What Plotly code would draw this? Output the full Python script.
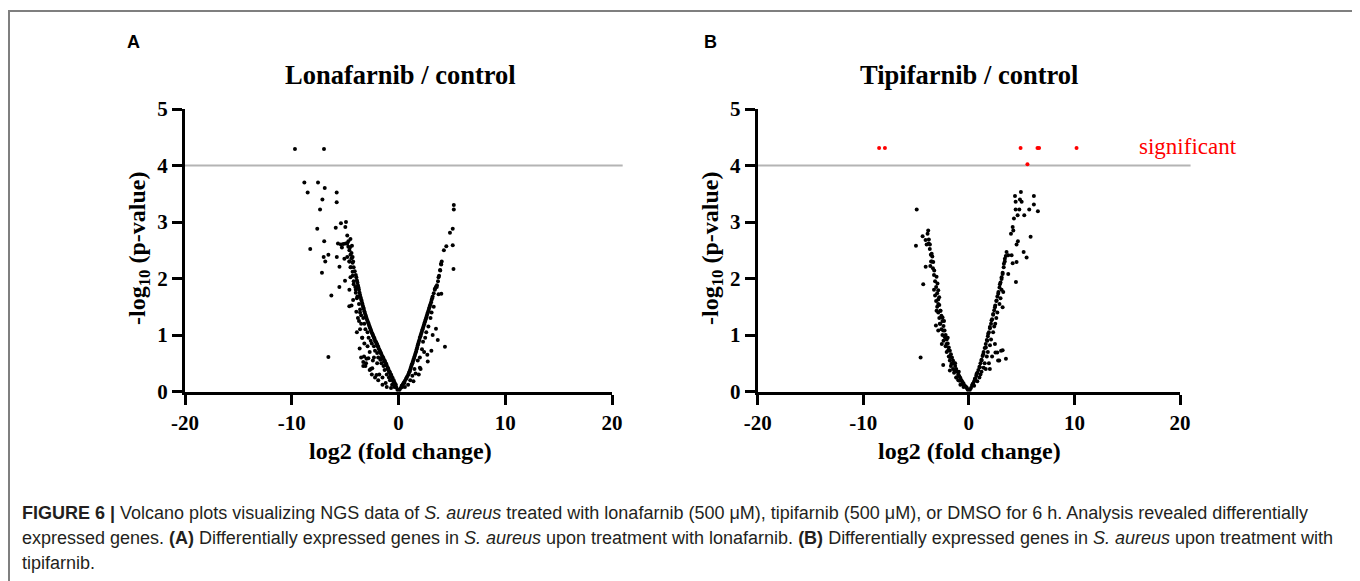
import plotly.graph_objects as go

# the page body adds an 8px offset, so the figure is laid out 8px smaller
OFF = 8
W, H = 1360 - OFF, 581 - OFF

# ---------------- data ----------------
x_ticks = [-20, -10, 0, 10, 20]
x_tick_labels = ["-20", "-10", "0", "10", "20"]
y_ticks = [0, 1, 2, 3, 4, 5]
y_tick_labels = ["0", "1", "2", "3", "4", "5"]
threshold = 4

# Panel A (Lonafarnib / control)
a_left_band = [(-0.1,0.03),(-0.2,0.07),(-0.25,0.12),(-0.3,0.1),(-0.35,0.15),(-0.4,0.16),(-0.45,0.2),(-0.5,0.18),
    (-0.55,0.24),(-0.6,0.22),(-0.65,0.27),(-0.7,0.3),(-0.75,0.28),(-0.8,0.33),(-0.85,0.36),(-0.9,0.35),(-0.95,0.4),
    (-1.0,0.42),(-1.05,0.4),(-1.1,0.46),(-1.15,0.49),(-1.2,0.47),(-1.25,0.52),(-1.3,0.55),(-1.35,0.53),(-1.4,0.58),
    (-1.45,0.6),(-1.5,0.62),(-1.55,0.6),(-1.6,0.66),(-1.65,0.68),(-1.7,0.7),(-1.75,0.72),(-1.8,0.74),(-1.85,0.76),
    (-1.9,0.79),(-1.95,0.8),(-2.0,0.83),(-2.05,0.85),(-2.1,0.87),(-2.15,0.89),(-2.2,0.9),(-2.25,0.94),(-2.3,0.95),
    (-2.35,0.98),(-2.4,1.0),(-2.45,1.02),(-2.5,1.04),(-2.55,1.07),(-2.6,1.09),(-2.65,1.12),(-2.7,1.14),(-2.75,1.17),
    (-2.8,1.2),(-2.85,1.22),(-2.9,1.25),(-2.95,1.27),(-3.0,1.3),(-3.05,1.33),(-3.1,1.36),(-3.15,1.39),(-3.2,1.42),
    (-3.25,1.46),(-3.3,1.49),(-3.35,1.52),(-3.4,1.56),(-3.45,1.6),(-3.5,1.63),(-3.55,1.67),(-3.6,1.71),(-3.65,1.75),
    (-3.7,1.8),(-3.75,1.84),(-3.8,1.88),(-3.85,1.93),(-3.9,1.97),(-3.95,2.02),(-4.0,2.06),(-4.1,2.13),(-4.2,2.2),
    (-4.3,2.28),(-4.4,2.36),(-4.5,2.42),(-4.6,2.5),(-4.7,2.56),(-4.8,2.62),
    (-0.4,0.08),(-0.6,0.12),(-0.8,0.2),(-0.9,0.25),(-1.1,0.3),(-1.3,0.38),(-1.4,0.45),(-1.6,0.5),(-1.7,0.56),
    (-1.9,0.6),(-2.0,0.68),(-2.2,0.72),(-2.3,0.8),(-2.5,0.85),(-2.6,0.9),(-2.8,0.95),(-2.9,1.05),(-3.1,1.1),
    (-3.2,1.2),(-3.3,1.3),(-3.5,1.35),(-3.6,1.45),(-3.7,1.55),(-3.9,1.65),(-4.0,1.8),(-4.2,1.9),(-4.3,2.05),
    (-4.5,2.2),(-4.6,2.3),(-2.0,0.5),(-2.3,0.6),(-2.7,0.7),(-3.0,0.58),(-3.3,0.45),(-2.6,0.4),(-1.8,0.3),
    (-1.5,0.25),(-2.9,0.8),(-3.4,0.95),(-3.6,1.1),(-2.4,0.55),(-1.2,0.15),(-0.7,0.06)]
a_left_scatter = [(-9.70,4.29),(-6.98,4.29),(-8.82,3.70),(-7.54,3.70),(-8.51,3.52),(-6.91,3.60),(-5.79,3.52),
    (-7.13,3.40),(-5.79,3.35),(-7.35,3.22),(-7.61,2.88),(-5.88,2.90),(-5.39,2.98),(-4.92,3.00),(-4.98,2.91),
    (-8.27,2.52),(-6.96,2.66),(-5.67,2.62),(-5.40,2.60),(-5.17,2.61),(-4.95,2.62),(-4.70,2.66),(-4.80,2.76),
    (-4.36,2.58),(-4.50,2.70),(-7.01,2.38),(-6.57,2.42),(-6.86,2.30),(-5.78,2.38),(-5.07,2.35),(-4.80,2.38),
    (-5.53,2.21),(-7.17,2.10),(-5.01,1.96),(-5.54,1.85),(-6.29,1.70),(-4.61,1.51),(-3.95,1.41),(-3.70,1.25),
    (-3.64,0.76),(-6.57,0.61),(-5.3,2.55),(-4.55,2.55),(-4.4,2.45),(-4.3,2.38),(-4.25,2.3),(-4.6,2.3),
    (-4.45,2.2),(-4.3,2.12),(-4.5,2.02),(-4.2,1.95),(-4.05,1.85),(-4.6,1.8),(-4.0,1.75),(-3.85,1.68),
    (-4.25,1.62),(-4.4,1.52),(-3.6,1.4),(-3.8,1.3),(-3.5,1.2),(-3.9,1.05),(-3.4,0.95),(-3.2,0.85),(-3.5,0.6),
    (-3.23,0.62),(-2.82,0.59),(-3.04,0.50),(-2.46,0.41),(-2.06,0.29),(-3.3,0.52),(-3.1,0.45),(-2.7,0.38),
    (-2.5,0.3),(-2.2,0.25),(-1.9,0.2),(-1.5,0.12),(-1.1,0.08)]
a_right_band = [(0.1,0.03),(0.2,0.06),(0.3,0.1),(0.35,0.08),(0.4,0.13),(0.5,0.16),(0.55,0.15),(0.6,0.19),(0.7,0.22),
    (0.75,0.24),(0.8,0.26),(0.9,0.29),(0.95,0.31),(1.0,0.34),(1.05,0.36),(1.1,0.39),(1.15,0.42),(1.2,0.45),
    (1.25,0.48),(1.3,0.5),(1.35,0.53),(1.4,0.56),(1.45,0.59),(1.5,0.62),(1.55,0.65),(1.6,0.68),(1.65,0.71),
    (1.7,0.75),(1.75,0.78),(1.8,0.82),(1.85,0.85),(1.9,0.88),(1.95,0.91),(2.0,0.95),(2.05,0.98),(2.1,1.01),
    (2.15,1.04),(2.2,1.07),(2.25,1.1),(2.3,1.13),(2.35,1.16),(2.4,1.19),(2.45,1.22),(2.5,1.25),(2.55,1.28),
    (2.6,1.31),(2.65,1.34),(2.7,1.37),(2.75,1.4),(2.8,1.43),(2.85,1.46),(2.9,1.49),(2.95,1.52),(3.0,1.55),
    (3.05,1.58),(3.1,1.62),(3.15,1.65),(3.2,1.68),(3.3,1.74),(3.4,1.8),(3.5,1.85),(3.6,1.88),(3.7,1.95),
    (3.8,2.05),(3.9,2.15),(4.0,2.25),(4.05,2.3),
    (0.6,0.08),(0.9,0.12),(1.1,0.2),(1.3,0.28),(1.5,0.4),(1.6,0.32),(1.8,0.55),(2.0,0.6),(2.2,0.75),(2.3,0.88),
    (2.5,0.95),(2.6,1.05),(2.8,1.15),(3.0,1.3),(3.1,1.4),(3.3,1.5),(2.0,0.42),(2.7,0.65),(1.4,0.18),(1.9,0.3),
    (2.4,0.7),(3.2,1.0)]
a_right_scatter = [(5.18,3.30),(5.18,3.22),(5.08,2.88),(4.82,2.81),(5.08,2.59),(4.48,2.57),(4.25,2.50),
    (5.15,2.17),(3.98,2.26),(3.91,2.14),(3.75,2.02),(3.58,1.85),(3.41,1.82),(4.01,1.73),(3.75,1.72),
    (3.51,1.11),(3.68,0.91),(4.35,0.79),(3.08,0.72),(2.74,0.53),(2.07,0.40)]

# Panel B (Tipifarnib / control)
b_left_band = [(-0.1,0.03),(-0.2,0.06),(-0.3,0.09),(-0.4,0.1),(-0.5,0.14),(-0.6,0.17),(-0.7,0.2),(-0.8,0.24),
    (-0.9,0.27),(-1.0,0.3),(-1.1,0.35),(-1.2,0.4),(-1.3,0.45),(-1.4,0.5),(-1.5,0.55),(-1.6,0.6),(-1.7,0.66),
    (-1.8,0.72),(-1.9,0.78),(-2.0,0.85),(-2.1,0.92),(-2.2,1.0),(-2.3,1.08),(-2.4,1.16),(-2.5,1.25),(-2.6,1.34),
    (-2.7,1.43),(-2.8,1.53),(-2.9,1.63),(-3.0,1.74),(-3.1,1.85),(-3.2,1.95),(-3.3,2.06),(-3.4,2.18),(-3.5,2.3),
    (-3.6,2.42),(-3.7,2.52),(-3.8,2.62),
    (-0.5,0.08),(-0.8,0.12),(-1.0,0.2),(-1.2,0.25),(-1.4,0.33),(-1.5,0.4),(-1.7,0.45),(-1.8,0.55),(-1.9,0.62),
    (-2.1,0.7),(-2.2,0.8),(-2.4,0.9),(-2.5,1.0),(-2.6,1.1),(-2.7,1.2),(-2.8,1.3),(-2.9,1.4),(-3.0,1.5),
    (-3.1,1.6),(-3.2,1.7),(-3.3,1.8),(-1.3,0.5),(-0.95,0.35),(-2.0,0.95),(-2.35,1.25)]
b_left_scatter = [(-4.94,3.22),(-5.01,2.58),(-4.57,0.60),(-4.32,1.90),(-3.85,2.85),(-3.91,2.79),(-4.38,2.75),
    (-4.1,2.68),(-3.79,2.69),(-4.0,2.6),(-3.69,2.6),(-3.52,2.44),(-3.46,2.39),(-3.58,2.30),(-4.09,2.21),
    (-3.65,2.22),(-3.37,2.29),(-3.28,2.14),(-3.06,2.03),(-2.97,1.91),(-2.9,1.79),(-2.81,1.67),(-2.9,1.55),
    (-2.68,1.43),(-3.06,1.43),(-2.49,1.31),(-2.75,1.20),(-3.12,1.17),(-2.9,1.08),(-2.43,1.08),(-2.27,0.96),
    (-2.12,0.84),(-2.56,0.84),(-1.96,0.73),(-2.43,0.47),(-1.8,0.61),(-1.64,0.49),(-1.8,0.37),(-1.33,0.37),
    (-1.17,0.25),(-0.86,0.19),(-0.54,0.13),(-0.22,0.07)]
b_right_band = [(0.1,0.03),(0.2,0.06),(0.3,0.1),(0.4,0.14),(0.5,0.18),(0.6,0.23),(0.7,0.28),(0.8,0.33),(0.9,0.38),
    (1.0,0.44),(1.1,0.5),(1.2,0.56),(1.3,0.63),(1.4,0.7),(1.5,0.77),(1.6,0.84),(1.7,0.91),(1.8,0.98),(1.9,1.05),
    (2.0,1.12),(2.1,1.2),(2.2,1.28),(2.3,1.36),(2.4,1.44),(2.5,1.52),(2.6,1.6),(2.7,1.68),(2.8,1.76),(2.9,1.84),
    (3.0,1.93),(3.1,2.02),(3.2,2.1),(3.3,2.2),(3.4,2.3),(3.5,2.4),
    (0.5,0.1),(0.8,0.18),(1.0,0.25),(1.2,0.35),(1.4,0.42),(1.5,0.5),(1.7,0.62),(1.8,0.7),(2.0,0.82),(2.1,0.92),
    (2.3,1.05),(2.4,1.15),(2.6,1.3),(2.7,1.4),(2.9,1.55),(3.0,1.65),(3.1,1.8),(1.6,0.4),(1.9,0.5),(2.2,0.62),
    (1.1,0.3),(2.5,1.2)]
b_right_scatter = [(4.93,3.53),(4.37,3.46),(4.84,3.40),(4.43,3.36),(5.0,3.36),(4.43,3.22),(4.78,3.22),
    (6.16,3.46),(6.16,3.31),(5.72,3.22),(6.54,3.19),(5.25,3.12),(4.62,3.12),(4.27,3.06),(4.15,2.91),
    (3.99,2.79),(4.21,2.85),(5.85,2.74),(4.65,2.66),(4.52,2.60),(3.57,2.47),(3.73,2.41),(3.41,2.35),
    (4.05,2.41),(5.19,2.47),(5.47,2.37),(4.52,2.29),(4.15,2.27),(4.46,1.94),(3.32,2.26),(3.2,2.08),
    (3.73,2.08),(3.1,1.99),(2.94,1.90),(3.26,1.76),(2.78,1.73),(2.63,1.61),(2.47,1.49),(3.2,1.49),
    (2.31,1.37),(2.15,1.26),(1.99,1.14),(1.83,1.02),(2.47,0.84),(1.74,0.90),(1.61,0.78),(2.69,0.69),
    (2.88,0.55),(3.2,0.73),(3.51,0.58),(1.36,0.66),(1.2,0.55),(1.99,0.40),(1.04,0.43),(0.73,0.31),
    (0.57,0.22),(0.35,0.13),(3.05,0.72),(2.52,0.69),(2.77,0.55)]
b_significant = [(-8.5,4.31),(-7.95,4.31),(4.9,4.31),(6.5,4.31),(6.65,4.31),(10.2,4.31),(5.55,4.02)]

caption_lines = [
    "<b>FIGURE 6 |</b> Volcano plots visualizing NGS data of <i>S. aureus</i> treated with lonafarnib (500 μM), "
    "tipifarnib (500 μM), or DMSO for 6 h. Analysis revealed differentially",
    "expressed genes. <b>(A)</b> Differentially expressed genes in <i>S. aureus</i> upon treatment with lonafarnib. "
    "<b>(B)</b> Differentially expressed genes in <i>S. aureus</i> upon treatment with",
    "tipifarnib.",
]

# ---------------- figure ----------------
SERIF = "Liberation Serif"
SANS = "Liberation Sans"

def px(x):
    """screen x pixel -> paper fraction"""
    return (x - OFF) / W

def py(y):
    """screen y pixel -> paper fraction"""
    return 1 - (y - OFF) / H

fig = go.Figure()

def add_pts(pts, xa, ya, color, size=4):
    fig.add_trace(go.Scatter(
        x=[p[0] for p in pts], y=[p[1] for p in pts], mode="markers",
        marker=dict(color=color, size=size, line=dict(width=0)),
        xaxis=xa, yaxis=ya, cliponaxis=False, showlegend=False, hoverinfo="skip"))

for grp in (a_left_band, a_left_scatter, a_right_band, a_right_scatter):
    add_pts(grp, "x", "y", "black")
for grp in (b_left_band, b_left_scatter, b_right_band, b_right_scatter):
    add_pts(grp, "x2", "y2", "black")
add_pts(b_significant, "x2", "y2", "red")

ydom = [py(391.5), py(109)]
axis_common = dict(
    range=[-20, 20], tickmode="array", tickvals=x_ticks, ticktext=x_tick_labels,
    ticks="outside", ticklen=10, tickwidth=3, tickcolor="black", automargin=False,
    showline=True, linewidth=3, linecolor="black", showgrid=False, zeroline=False,
    tickfont=dict(family=SERIF, size=21, color="black", weight="bold"),
)
yaxis_common = dict(
    range=[0, 5], tickmode="array", tickvals=y_ticks, ticktext=y_tick_labels,
    ticks="outside", ticklen=10, tickwidth=3, tickcolor="black", automargin=False,
    showline=True, linewidth=3, linecolor="black", showgrid=False, zeroline=False, domain=ydom,
    tickfont=dict(family=SERIF, size=21, color="black", weight="bold"),
)

fig.update_layout(
    width=W, height=H, autosize=False,
    margin=dict(l=0, r=0, t=0, b=0, pad=0, autoexpand=False),
    paper_bgcolor="white", plot_bgcolor="rgba(0,0,0,0)",
    xaxis=dict(domain=[px(185), px(612)], anchor="y", **axis_common),
    yaxis=dict(anchor="x", **yaxis_common),
    xaxis2=dict(domain=[px(757.7), px(1180)], anchor="y2", **axis_common),
    yaxis2=dict(anchor="x2", **yaxis_common),
)

shapes = [
    dict(type="rect", xref="paper", yref="paper", x0=px(9), x1=px(1355.5), y0=-0.1, y1=py(11),
         line=dict(color="#7f7f7f", width=2), fillcolor="rgba(0,0,0,0)", layer="below"),
    dict(type="line", xref="x domain", yref="y", x0=0, x1=41 / 40, y0=threshold, y1=threshold,
         line=dict(color="#b4b4b4", width=2), layer="below"),
    dict(type="line", xref="x2 domain", yref="y2", x0=0, x1=41 / 40, y0=threshold, y1=threshold,
         line=dict(color="#b4b4b4", width=2), layer="below"),
]
fig.update_layout(shapes=shapes)

ann = []
# panel letters
ann.append(dict(text="<b>A</b>", x=px(133), y=py(42), font=dict(family=SANS, size=18, color="black")))
ann.append(dict(text="<b>B</b>", x=px(710), y=py(42), font=dict(family=SANS, size=18, color="black")))
# titles
ann.append(dict(text="<b>Lonafarnib / control</b>", x=px(400), y=py(75), font=dict(family=SERIF, size=26.5, color="black")))
ann.append(dict(text="<b>Tipifarnib / control</b>", x=px(969), y=py(75), font=dict(family=SERIF, size=26.5, color="black")))
# axis titles
for cx in (400, 969):
    ann.append(dict(text="<b>log2 (fold change)</b>", x=px(cx), y=py(451), font=dict(family=SERIF, size=24, color="black")))
for cx in (139, 712):
    ann.append(dict(text="<b>-log<sub>10</sub> (p-value)</b>", x=px(cx), y=py(249), textangle=-90,
                    font=dict(family=SERIF, size=24, color="black")))
# significant label
ann.append(dict(text="significant", x=px(1137), y=py(146), xanchor="left",
                font=dict(family=SERIF, size=23, color="red")))
# caption
for i, line in enumerate(caption_lines):
    ann.append(dict(text=line, x=px(20), y=py(513 + 25 * i), xanchor="left",
                    font=dict(family=SANS, size=18, color="#231f20")))

for a in ann:
    a.setdefault("xanchor", "center")
    a.setdefault("yanchor", "middle")
    a.update(xref="paper", yref="paper", showarrow=False)
fig.update_layout(annotations=ann)

fig.write_html("out.html")
